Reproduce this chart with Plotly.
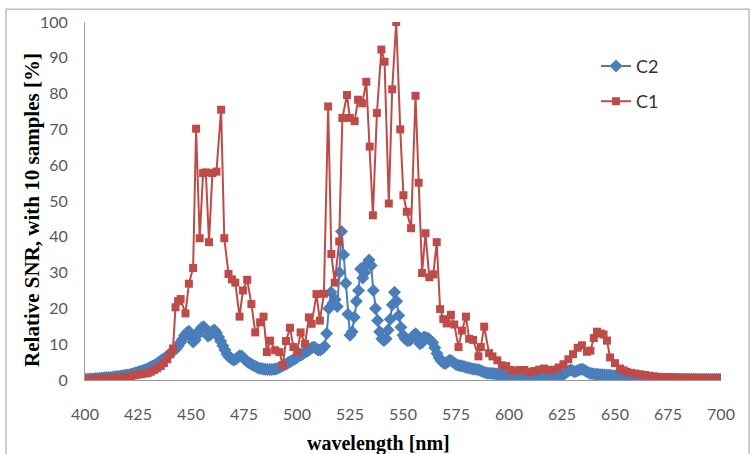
import plotly.graph_objects as go

# ---- C1 (red squares) ----
wl_c1 = [400.0, 401.6, 403.1, 404.7, 406.2, 407.8, 409.3, 410.9, 412.4, 414.0,
         415.5, 417.1, 418.6, 420.2, 421.7, 423.3, 424.8, 426.4, 427.9, 429.5,
         431.0, 432.6, 434.1, 435.7, 437.2, 438.8, 440.3, 441.5, 442.7, 443.9,
         445.1, 447.4, 449.0, 451.0, 452.4, 454.1, 455.7, 457.0, 458.5, 460.1,
         462.0, 464.2, 465.7, 467.7, 469.3, 470.9, 472.9, 474.5, 476.5, 478.5,
         480.3, 482.6, 484.2, 485.8, 487.3, 489.7, 491.7, 493.3, 494.8, 496.7,
         498.3, 500.1, 501.7, 503.8, 505.6, 506.9, 509.2, 510.8, 512.7, 514.7,
         516.2, 517.8, 519.9, 521.4, 523.6, 524.9, 527.2, 528.8, 530.8, 532.7,
         534.3, 535.8, 537.7, 539.8, 541.3, 543.3, 544.9, 546.8, 548.7, 550.2,
         551.8, 553.8, 555.9, 557.4, 559.0, 560.6, 562.4, 564.3, 565.9, 567.5,
         569.0, 570.6, 572.6, 574.2, 576.2, 577.8, 579.7, 581.2, 583.1, 585.6,
         586.7, 588.3, 590.6, 592.2, 594.5, 596.6, 598.7, 600.8, 602.9, 605.0,
         607.3, 609.6, 611.9, 614.2, 616.5, 618.8, 621.1, 623.4, 625.7, 628.0,
         630.2, 632.4, 634.4, 636.8, 638.4, 640.0, 641.5, 643.3, 644.6, 646.2,
         647.7, 650.0, 652.4, 654.0, 655.5, 657.5, 659.5, 661.8, 664.1, 666.2,
         668.3, 670.4, 672.5, 674.6, 676.7, 678.8, 680.9, 683.0, 685.1, 687.2,
         689.3, 691.4, 693.5, 695.6, 697.7, 699.8]
snr_c1 = [0.2, 0.2, 0.3, 0.3, 0.3, 0.4, 0.4, 0.5, 0.5, 0.6,
          0.6, 0.7, 0.8, 0.9, 1.1, 1.3, 1.5, 1.6, 1.8, 1.9,
          2.3, 2.8, 3.3, 3.9, 4.7, 5.8, 7.2, 8.8, 20.3, 22.0,
          22.6, 18.6, 26.9, 31.3, 70.2, 39.6, 57.8, 58.0, 38.5, 57.8,
          58.2, 75.5, 39.6, 29.6, 28.1, 27.2, 17.7, 25.0, 28.0, 21.2,
          13.3, 16.1, 17.7, 7.8, 11.0, 8.3, 7.8, 4.1, 10.9, 14.6,
          9.2, 7.8, 13.3, 10.1, 17.5, 15.7, 24.0, 16.6, 24.1, 76.4,
          35.2, 27.2, 38.7, 73.2, 79.6, 73.2, 72.3, 78.3, 77.3, 83.3,
          65.2, 46.0, 74.6, 92.3, 88.9, 49.3, 81.2, 100.0, 70.0, 51.6,
          47.0, 42.4, 79.4, 55.1, 29.9, 41.0, 28.7, 29.5, 38.5, 19.8,
          17.0, 15.8, 18.2, 15.5, 9.2, 13.8, 17.7, 11.5, 11.2, 6.6,
          9.2, 14.9, 7.5, 6.6, 5.5, 4.1, 3.9, 2.8, 2.5, 2.8,
          2.8, 2.2, 2.5, 2.9, 3.2, 2.8, 2.9, 3.5, 4.4, 5.8,
          7.2, 9.0, 9.7, 7.9, 8.2, 11.7, 13.5, 13.0, 12.7, 11.0,
          6.3, 4.7, 3.2, 2.7, 2.3, 2.0, 1.8, 1.6, 1.4, 1.2,
          1.0, 0.9, 0.8, 0.8, 0.7, 0.7, 0.6, 0.6, 0.6, 0.6,
          0.5, 0.5, 0.5, 0.5, 0.5, 0.5]

# ---- C2 (blue diamonds), 1 nm sampling 400..700 ----
wl_c2 = list(range(400, 701))
snr_c2 = [
    0.2, 0.2, 0.3, 0.3, 0.3, 0.4, 0.4, 0.5, 0.5, 0.6,      # 400
    0.6, 0.7, 0.7, 0.8, 0.9, 1.0, 1.0, 1.1, 1.2, 1.3,      # 410
    1.4, 1.5, 1.7, 1.8, 2.0, 2.2, 2.4, 2.6, 2.8, 3.0,      # 420
    3.3, 3.6, 3.9, 4.2, 4.6, 5.0, 5.5, 5.9, 6.3, 6.8,      # 430
    7.3, 7.8, 8.3, 8.8, 9.6, 10.5, 11.4, 12.4, 13.2, 13.6, # 440
    12.2, 10.6, 11.2, 12.6, 13.8, 14.6, 14.9, 14.2, 12.3, 12.6,  # 450
    13.6, 14.0, 13.2, 12.0, 10.8, 9.6, 8.4, 7.2, 6.4, 6.0,  # 460
    5.6, 5.8, 6.3, 6.8, 6.6, 6.0, 5.4, 4.9, 4.6, 4.2,      # 470
    3.9, 3.6, 3.3, 3.2, 3.1, 3.0, 2.9, 2.9, 2.9, 3.0,      # 480
    3.1, 3.3, 3.6, 3.9, 4.2, 4.5, 4.9, 5.2, 5.6, 5.9,      # 490
    6.3, 6.7, 7.0, 7.4, 7.8, 8.1, 8.5, 9.0, 9.2, 8.8,      # 500
    8.4, 8.4, 8.8, 9.4, 13.0, 20.0, 24.5, 21.5, 22.5, 20.5,  # 510
    30.0, 41.5, 35.0, 27.0, 18.4, 12.5, 13.5, 17.5, 22.0, 25.0,  # 520
    31.0, 28.5, 30.0, 32.5, 33.5, 32.0, 25.0, 20.0, 16.6, 13.5,  # 530
    11.5, 11.0, 11.5, 14.0, 17.0, 21.0, 24.5, 22.0, 18.0, 14.7,  # 540
    12.5, 11.5, 11.0, 11.0, 11.5, 12.5, 12.9, 11.5, 10.1, 10.5,  # 550
    12.0, 11.8, 11.6, 11.0, 10.5, 9.0, 7.4, 6.2, 5.4, 4.8,  # 560
    4.6, 5.0, 5.5, 5.3, 4.8, 4.3, 4.1, 4.0, 3.9, 3.7,      # 570
    3.5, 3.4, 3.2, 3.1, 3.0, 2.9, 2.8, 2.5, 2.2, 2.0,      # 580
    1.9, 1.9, 1.8, 1.8, 1.7, 1.6, 1.5, 1.3, 1.2, 1.0,      # 590
    0.9, 0.8, 0.7, 0.6, 0.5, 0.5, 0.5, 0.5, 0.5, 0.5,      # 600
    0.5, 0.5, 0.5, 0.5, 0.5, 0.5, 0.6, 0.6, 0.6, 0.7,      # 610
    0.7, 0.8, 0.9, 1.0, 1.2, 1.4, 1.7, 2.1, 2.5, 2.8,      # 620
    2.6, 2.3, 2.5, 2.8, 3.0, 2.9, 2.6, 2.2, 1.9, 1.8,      # 630
    1.7, 1.6, 1.6, 1.5, 1.5, 1.4, 1.4, 1.3, 1.3, 1.2,      # 640
    1.2, 1.1, 1.0, 0.9, 0.8, 0.7, 0.6, 0.5, 0.4, 0.3,      # 650
    0.3, 0.3, 0.3, 0.3, 0.3, 0.3, 0.3, 0.3, 0.3, 0.3,      # 660
    0.2, 0.2, 0.2, 0.2, 0.2, 0.2, 0.2, 0.2, 0.2, 0.2,      # 670
    0.2, 0.2, 0.2, 0.2, 0.2, 0.2, 0.2, 0.2, 0.2, 0.2,      # 680
    0.2, 0.2, 0.2, 0.2, 0.2, 0.2, 0.2, 0.2, 0.2, 0.2,      # 690
    0.2,                                                   # 700
]

x_ticks = [400, 425, 450, 475, 500, 525, 550, 575, 600, 625, 650, 675, 700]
y_ticks = [0, 10, 20, 30, 40, 50, 60, 70, 80, 90, 100]

RED = "#BE4B48"
BLUE = "#4A7EBB"
TICK_FONT = dict(family="Lato, Open Sans, sans-serif", size=16, color="#595959")

fig = go.Figure()
fig.add_trace(go.Scatter(
    x=wl_c2, y=snr_c2, name="C2", mode="lines+markers", legendgroup="c2",
    line=dict(color=BLUE, width=2),
    marker=dict(symbol="diamond", size=10, color=BLUE, line=dict(width=0)),
))
fig.add_trace(go.Scatter(
    x=wl_c1, y=snr_c1, name="C1", mode="lines+markers", legendgroup="c1",
    line=dict(color=RED, width=2),
    marker=dict(symbol="square", size=8, color=RED, line=dict(width=0)),
))

L, R, T, B = 85, 30, 18, 74
W, H = 751, 454
pw, ph = W - L - R, H - T - B

def px_to_paper_x(px):
    return (px - L) / pw

def px_to_paper_y(py):
    return (H - B - py) / ph

fig.update_layout(
    width=W, height=H,
    margin=dict(l=L, r=R, t=T, b=B, pad=0),
    paper_bgcolor="white", plot_bgcolor="white",
    showlegend=True,
    legend=dict(
        x=px_to_paper_x(596), y=px_to_paper_y(44), xanchor="left", yanchor="top",
        font=dict(family="Lato, Open Sans, sans-serif", size=18, color="#333333"),
        bgcolor="rgba(0,0,0,0)", tracegroupgap=9, itemwidth=30,
    ),
    xaxis=dict(
        range=[400, 700], tickvals=x_ticks, ticktext=[str(v) for v in x_ticks],
        showgrid=False, zeroline=False, showline=True, linecolor="#9a9a9a",
        linewidth=1, ticks="", tickfont=TICK_FONT, ticklabelstandoff=20,
    ),
    yaxis=dict(
        range=[0, 100], tickvals=y_ticks, ticktext=[str(v) for v in y_ticks],
        showgrid=False, zeroline=False, showline=True, linecolor="#9a9a9a",
        linewidth=1, ticks="", tickfont=TICK_FONT, ticklabelstandoff=13,
    ),
    annotations=[
        dict(text="<b>wavelength [nm]</b>", xref="paper", yref="paper",
             x=px_to_paper_x(378), y=px_to_paper_y(444), xanchor="center", yanchor="middle",
             showarrow=False,
             font=dict(family="Liberation Serif, Times New Roman, serif", size=20, color="#000000")),
        dict(text="<b>Relative SNR, with 10 samples [%]</b>", xref="paper", yref="paper",
             x=px_to_paper_x(32), y=px_to_paper_y(208), xanchor="center", yanchor="middle",
             textangle=-90, showarrow=False,
             font=dict(family="Liberation Serif, Times New Roman, serif", size=21, color="#000000")),
    ],
    shapes=[
        dict(type="rect", xref="paper", yref="paper",
             x0=px_to_paper_x(6), x1=px_to_paper_x(749),
             y0=px_to_paper_y(470), y1=px_to_paper_y(5),
             line=dict(color="#9a9a9a", width=1), fillcolor="rgba(0,0,0,0)", layer="below"),
    ],
)

fig.write_html("out.html")
